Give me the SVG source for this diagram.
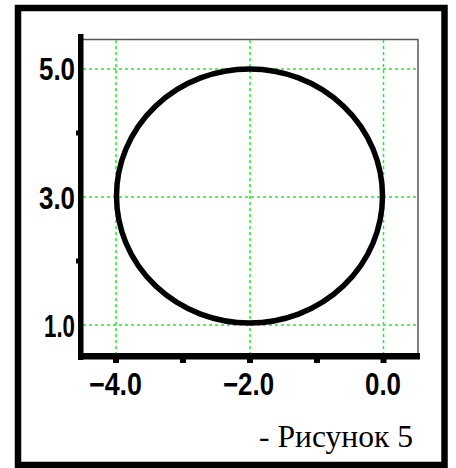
<svg xmlns="http://www.w3.org/2000/svg" width="456" height="468" viewBox="0 0 456 468">
<style>
.grid{stroke:#22ee22;stroke-width:1.5;stroke-dasharray:3,3;fill:none}
.lbl{font-family:"Liberation Sans",Arial,sans-serif;font-weight:bold;font-size:31px;fill:#000}
.tick{fill:#000}
</style>
<rect width="456" height="468" fill="#fff"/>
<g id="frame">
<rect x="18" y="8" width="426.5" height="457" fill="none" stroke="#000" stroke-width="6.5"/>
</g>
<g id="plot">
<line x1="83" y1="39.5" x2="418" y2="39.5" stroke="#555" stroke-width="1.5"/>
<line x1="418" y1="39" x2="418" y2="354" stroke="#555" stroke-width="1.5"/>
<g id="grid">
<line class="grid" x1="116" y1="40" x2="116" y2="353"/>
<line class="grid" x1="250" y1="40" x2="250" y2="353"/>
<line class="grid" x1="383.5" y1="40" x2="383.5" y2="353"/>
<line class="grid" x1="83" y1="69" x2="416" y2="69"/>
<line class="grid" x1="83" y1="197" x2="416" y2="197"/>
<line class="grid" x1="83" y1="325" x2="416" y2="325"/>
</g>
<g id="axes">
<rect x="78" y="34" width="5.5" height="326" fill="#000"/>
<rect x="78" y="353" width="342" height="6.5" fill="#000"/>
<rect class="tick" x="113" y="359" width="6" height="4"/>
<rect class="tick" x="180" y="359" width="6" height="4"/>
<rect class="tick" x="247" y="359" width="6" height="4"/>
<rect class="tick" x="314" y="359" width="6" height="4"/>
<rect class="tick" x="380.5" y="359" width="6" height="4"/>
<rect class="tick" x="76" y="130.5" width="3" height="5"/>
<rect class="tick" x="76" y="258.5" width="3" height="5"/>
</g>
<g id="labels">
<text class="lbl" x="75" y="80" text-anchor="end" textLength="36" lengthAdjust="spacingAndGlyphs">5.0</text>
<text class="lbl" x="75" y="208.5" text-anchor="end" textLength="36" lengthAdjust="spacingAndGlyphs">3.0</text>
<text class="lbl" x="75" y="337" text-anchor="end" textLength="31" lengthAdjust="spacingAndGlyphs">1.0</text>
<text class="lbl" x="89" y="395" textLength="53" lengthAdjust="spacingAndGlyphs">−4.0</text>
<text class="lbl" x="223" y="395" textLength="51" lengthAdjust="spacingAndGlyphs">−2.0</text>
<text class="lbl" x="365" y="395" textLength="36" lengthAdjust="spacingAndGlyphs">0.0</text>
</g>
<g id="curve">
<ellipse cx="249.5" cy="196" rx="133" ry="127" fill="none" stroke="#000" stroke-width="5.5"/>
</g>
</g>
<g id="caption">
<text x="259" y="447" font-family="'Liberation Serif','Times New Roman',serif" font-size="31" fill="#000" textLength="154" lengthAdjust="spacingAndGlyphs">- Рисунок 5</text>
</g>
</svg>
